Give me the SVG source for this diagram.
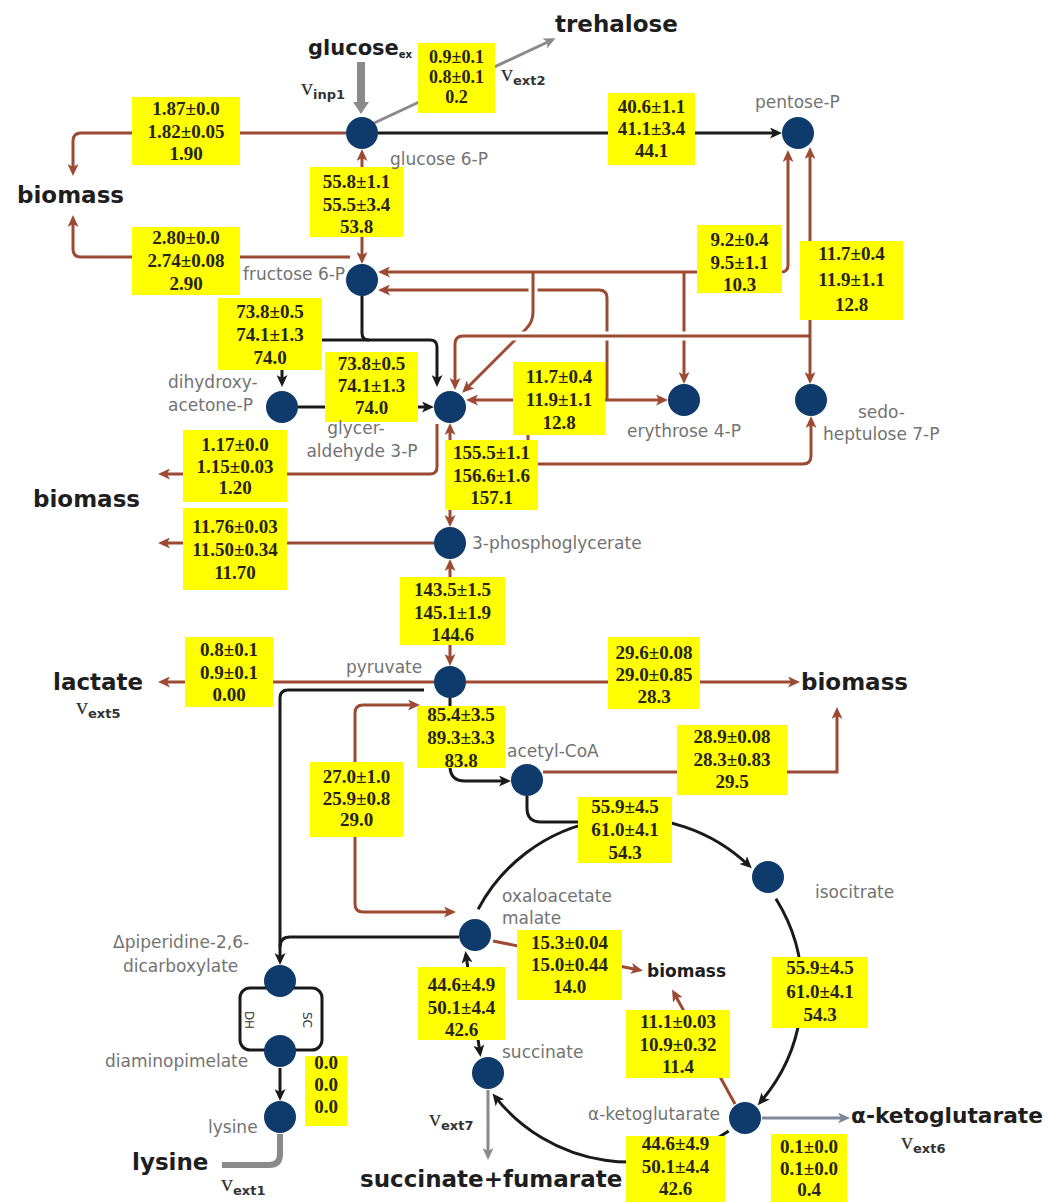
<svg xmlns="http://www.w3.org/2000/svg" width="1049" height="1202" viewBox="0 0 1049 1202">
  <style>
    .br{fill:none;stroke:#9c4a33;stroke-width:3}
    .bk{fill:none;stroke:#1a1a1a;stroke-width:3}
    .gy{fill:none;stroke:#8a8a8a;stroke-width:3}
    .halo{fill:none;stroke:#ffffff;stroke-width:9}
    .box{fill:#ffff00}
    .val{font-family:"Liberation Serif","Times New Roman",serif;font-weight:bold;font-size:19px;fill:#27241a;text-anchor:middle}
    .lbl{font-family:"DejaVu Sans","Liberation Sans",sans-serif;font-size:17px;fill:#737373}
    .big{font-family:"DejaVu Sans","Liberation Sans",sans-serif;font-weight:bold;font-size:23px;fill:#1e1e1e}
    .v{font-family:"Liberation Serif","Times New Roman",serif;font-size:24px;fill:#333333}
    .sub{font-family:"DejaVu Sans","Liberation Sans",sans-serif;font-weight:bold;font-size:13px}
    .node{fill:#0e3a6c}
    .enz{font-family:"DejaVu Sans","Liberation Sans",sans-serif;font-size:12px;fill:#333333;text-anchor:middle}
  </style>
  <defs>
    <marker id="ah-br" markerUnits="userSpaceOnUse" markerWidth="12" markerHeight="11" viewBox="0 0 12 11" refX="8" refY="5.5" orient="auto-start-reverse">
      <path d="M0,0 L12,5.5 L0,11 L3,5.5 z" fill="#9c4a33"/>
    </marker>
    <marker id="ah-bk" markerUnits="userSpaceOnUse" markerWidth="12" markerHeight="11" viewBox="0 0 12 11" refX="8" refY="5.5" orient="auto-start-reverse">
      <path d="M0,0 L12,5.5 L0,11 L3,5.5 z" fill="#1a1a1a"/>
    </marker>
    <marker id="ah-gy" markerUnits="userSpaceOnUse" markerWidth="12" markerHeight="11" viewBox="0 0 12 11" refX="8" refY="5.5" orient="auto-start-reverse">
      <path d="M0,0 L12,5.5 L0,11 L3,5.5 z" fill="#8a8a8a"/>
    </marker>
    <marker id="ah-gb" markerUnits="userSpaceOnUse" markerWidth="12" markerHeight="11" viewBox="0 0 12 11" refX="8" refY="5.5" orient="auto-start-reverse">
      <path d="M0,0 L12,5.5 L0,11 L3,5.5 z" fill="#7f8899"/>
    </marker>
    <marker id="ah-gy-big" markerUnits="userSpaceOnUse" markerWidth="12" markerHeight="16" viewBox="0 0 12 16" refX="6" refY="8" orient="auto">
      <path d="M0,0 L12,8 L0,16 z" fill="#8a8a8a"/>
    </marker>
  </defs>

  <rect width="1049" height="1202" fill="#ffffff"/>

  <!-- connectors -->
  <g id="connectors">
    <!-- uptake and trehalose -->
    <path d="M361,62 L361,108" fill="none" stroke="#8a8a8a" stroke-width="8" marker-end="url(#ah-gy-big)"/>
    <path class="gy" d="M372,124 L552,40" marker-end="url(#ah-gy)"/>

    <!-- oxidative PPP -->
    <path class="bk" d="M378,133 L778,133" marker-end="url(#ah-bk)"/>

    <!-- drains to biomass (upper left) -->
    <path class="br" d="M346,133 L81,133 Q73,133 73,141 L73,172" marker-end="url(#ah-br)"/>
    <path class="br" d="M350,257 L81,257 Q73,257 73,249 L73,219" marker-end="url(#ah-br)"/>

    <!-- glucose 6-P <-> fructose 6-P -->
    <path class="br" d="M362,153 L362,260" marker-start="url(#ah-br)" marker-end="url(#ah-br)"/>

    <!-- transaldolase -->
    <path class="br" d="M607,400 L607,298 Q607,290 599,290 L382,290" marker-end="url(#ah-br)"/>
    <path class="br" d="M470,400 L664,400" marker-start="url(#ah-br)" marker-end="url(#ah-br)"/>
    <path class="br" d="M528,433 L528,464 L803,464 Q811,464 811,456 L811,420" marker-end="url(#ah-br)"/>

    <!-- transketolase 2 -->
    <path class="br" d="M684,272 L684,380" marker-end="url(#ah-br)"/>
    <path class="halo" d="M533,281 L533,300"/>
    <path class="br" d="M788,154 L788,265 Q788,272 781,272 L382,272" marker-start="url(#ah-br)" marker-end="url(#ah-br)"/>
    <path class="br" d="M533,272 L533,312 Q533,322 526,329 L465,390" marker-end="url(#ah-br)"/>

    <!-- transketolase 1 -->
    <path class="br" d="M810,151 L810,380" marker-start="url(#ah-br)" marker-end="url(#ah-br)"/>
    <path class="halo" d="M790,336 L470,336"/>
    <path class="br" d="M810,336 L463,336 Q455,336 455,344 L455,386" marker-end="url(#ah-br)"/>

    <!-- upper glycolysis -->
    <path class="bk" d="M362,296 L362,333 Q362,340 369,340 L430,340 Q437,340 437,347 L437,383" marker-end="url(#ah-bk)"/>
    <path class="bk" d="M369,340 L289,340 Q282,340 282,347 L282,383" marker-end="url(#ah-bk)"/>
    <path class="bk" d="M298,407 L430,407" marker-end="url(#ah-bk)"/>

    <!-- lower glycolysis and drains -->
    <path class="br" d="M437,424 L437,467 Q437,474 430,474 L162,474" marker-end="url(#ah-br)"/>
    <path class="br" d="M450,427 L450,523" marker-start="url(#ah-br)" marker-end="url(#ah-br)"/>
    <path class="br" d="M434,543 L162,543" marker-end="url(#ah-br)"/>
    <path class="br" d="M450,563 L450,662" marker-start="url(#ah-br)" marker-end="url(#ah-br)"/>
    <path class="br" d="M434,682 L162,682" marker-end="url(#ah-br)"/>
    <path class="br" d="M466,682 L796,682" marker-end="url(#ah-br)"/>
    <path class="br" d="M543,772 L837,772 L837,711" marker-end="url(#ah-br)"/>

    <!-- pyruvate carboxylation -->
    <path class="br" d="M416,705 L363,705 Q355,705 355,713 L355,904 Q355,912 363,912 L452,912" marker-start="url(#ah-br)" marker-end="url(#ah-br)"/>

    <!-- pyruvate dehydrogenase -->
    <path class="bk" d="M450,698 L450,766 Q450,781 465,781 L507,781" marker-end="url(#ah-bk)"/>

    <!-- lysine branch -->
    <path class="bk" d="M424,690 L288,690 Q280,690 280,698 L280,961" marker-end="url(#ah-bk)"/>
    <path class="bk" d="M459,937 L290,937 Q280,937 280,947"/>
    <rect class="bk" x="240" y="988" width="82" height="62" rx="10"/>
    <path class="bk" d="M280,1068 L280,1097" marker-end="url(#ah-bk)"/>
    <path d="M280,1134 L280,1154 Q280,1165 269,1165 L222,1165" fill="none" stroke="#8a8a8a" stroke-width="6"/>

    <!-- TCA cycle -->
    <path class="bk" d="M527,796 L527,808 Q527,822 541,822 L580,822"/>
    <path class="bk" d="M478.1,909.3 A172,172 0 0 1 748.9,865.6" marker-end="url(#ah-bk)"/>
    <path class="bk" d="M775.9,898.8 A172,172 0 0 1 760.4,1102.1" marker-end="url(#ah-bk)"/>
    <path class="bk" d="M728.7,1130.9 A172,172 0 0 1 495.0,1096.6" marker-end="url(#ah-bk)"/>
    <path class="bk" d="M466,955 L480,1053" marker-start="url(#ah-bk)" marker-end="url(#ah-bk)"/>
    <path class="br" d="M493,941 L639,970" marker-end="url(#ah-br)"/>
    <path class="br" d="M735,1104 L674,993" marker-end="url(#ah-br)"/>

    <!-- excretion -->
    <path class="gy" d="M488,1090 L488,1156" marker-end="url(#ah-gy)"/>
    <path fill="none" stroke="#7f8899" stroke-width="3" d="M762,1118 L846,1118" marker-end="url(#ah-gb)"/>
  </g>

  <!-- flux value boxes -->
  <g id="fluxes">
    <g id="f-g6p-bio"><rect class="box" x="132" y="97" width="108" height="68"/>
      <text class="val" y="115"><tspan x="186">1.87±0.0</tspan><tspan x="186" dy="22.5">1.82±0.05</tspan><tspan x="186" dy="22.5">1.90</tspan></text></g>
    <g id="f-treh"><rect class="box" x="418" y="43" width="77" height="70"/>
      <text class="val" y="63" style="font-size:18px"><tspan x="456.5">0.9±0.1</tspan><tspan x="456.5" dy="20">0.8±0.1</tspan><tspan x="456.5" dy="20">0.2</tspan></text></g>
    <g id="f-ppp"><rect class="box" x="608" y="93" width="87" height="72"/>
      <text class="val" y="113"><tspan x="651.5">40.6±1.1</tspan><tspan x="651.5" dy="22">41.1±3.4</tspan><tspan x="651.5" dy="22">44.1</tspan></text></g>
    <g id="f-pgi"><rect class="box" x="310" y="167" width="93" height="70"/>
      <text class="val" y="188"><tspan x="356.5">55.8±1.1</tspan><tspan x="356.5" dy="22.5">55.5±3.4</tspan><tspan x="356.5" dy="22.5">53.8</tspan></text></g>
    <g id="f-f6p-bio"><rect class="box" x="132" y="227" width="108" height="68"/>
      <text class="val" y="244"><tspan x="186">2.80±0.0</tspan><tspan x="186" dy="23">2.74±0.08</tspan><tspan x="186" dy="23">2.90</tspan></text></g>
    <g id="f-tk2"><rect class="box" x="697" y="225" width="85" height="68"/>
      <text class="val" y="246"><tspan x="739.5">9.2±0.4</tspan><tspan x="739.5" dy="22.5">9.5±1.1</tspan><tspan x="739.5" dy="22.5">10.3</tspan></text></g>
    <g id="f-tk1"><rect class="box" x="800" y="241" width="103" height="79"/>
      <text class="val" y="260"><tspan x="851.5">11.7±0.4</tspan><tspan x="851.5" dy="25.5">11.9±1.1</tspan><tspan x="851.5" dy="25.5">12.8</tspan></text></g>
    <g id="f-fba"><rect class="box" x="218" y="298" width="104" height="72"/>
      <text class="val" y="318"><tspan x="270">73.8±0.5</tspan><tspan x="270" dy="23">74.1±1.3</tspan><tspan x="270" dy="23">74.0</tspan></text></g>
    <g id="f-tpi"><rect class="box" x="325" y="352" width="93" height="70"/>
      <text class="val" y="370"><tspan x="371.5">73.8±0.5</tspan><tspan x="371.5" dy="22">74.1±1.3</tspan><tspan x="371.5" dy="22">74.0</tspan></text></g>
    <g id="f-ta"><rect class="box" x="513" y="362" width="92" height="73"/>
      <text class="val" y="383"><tspan x="559">11.7±0.4</tspan><tspan x="559" dy="23">11.9±1.1</tspan><tspan x="559" dy="23">12.8</tspan></text></g>
    <g id="f-gap-bio"><rect class="box" x="183" y="430" width="104" height="72"/>
      <text class="val" y="451"><tspan x="235">1.17±0.0</tspan><tspan x="235" dy="21.5">1.15±0.03</tspan><tspan x="235" dy="21.5">1.20</tspan></text></g>
    <g id="f-gapdh"><rect class="box" x="445" y="440" width="93" height="70"/>
      <text class="val" y="459"><tspan x="491.5">155.5±1.1</tspan><tspan x="491.5" dy="22.5">156.6±1.6</tspan><tspan x="491.5" dy="22.5">157.1</tspan></text></g>
    <g id="f-pga-bio"><rect class="box" x="183" y="508" width="104" height="82"/>
      <text class="val" y="533"><tspan x="235">11.76±0.03</tspan><tspan x="235" dy="23">11.50±0.34</tspan><tspan x="235" dy="23">11.70</tspan></text></g>
    <g id="f-eno"><rect class="box" x="400" y="577" width="105" height="68"/>
      <text class="val" y="596"><tspan x="452.5">143.5±1.5</tspan><tspan x="452.5" dy="22.5">145.1±1.9</tspan><tspan x="452.5" dy="22.5">144.6</tspan></text></g>
    <g id="f-lac"><rect class="box" x="185" y="637" width="88" height="70"/>
      <text class="val" y="656"><tspan x="229">0.8±0.1</tspan><tspan x="229" dy="22.5">0.9±0.1</tspan><tspan x="229" dy="22.5">0.00</tspan></text></g>
    <g id="f-pyr-bio"><rect class="box" x="608" y="637" width="92" height="72"/>
      <text class="val" y="659"><tspan x="654">29.6±0.08</tspan><tspan x="654" dy="22">29.0±0.85</tspan><tspan x="654" dy="22">28.3</tspan></text></g>
    <g id="f-pdh"><rect class="box" x="417" y="706" width="88" height="62"/>
      <text class="val" y="721"><tspan x="461">85.4±3.5</tspan><tspan x="461" dy="23">89.3±3.3</tspan><tspan x="461" dy="23">83.8</tspan></text></g>
    <g id="f-accoa-bio"><rect class="box" x="677" y="725" width="110" height="70"/>
      <text class="val" y="743"><tspan x="732">28.9±0.08</tspan><tspan x="732" dy="22.5">28.3±0.83</tspan><tspan x="732" dy="22.5">29.5</tspan></text></g>
    <g id="f-pc"><rect class="box" x="310" y="762" width="93" height="75"/>
      <text class="val" y="783"><tspan x="356.5">27.0±1.0</tspan><tspan x="356.5" dy="21.5">25.9±0.8</tspan><tspan x="356.5" dy="21.5">29.0</tspan></text></g>
    <g id="f-cs"><rect class="box" x="578" y="797" width="94" height="66"/>
      <text class="val" y="813"><tspan x="625">55.9±4.5</tspan><tspan x="625" dy="23">61.0±4.1</tspan><tspan x="625" dy="23">54.3</tspan></text></g>
    <g id="f-oaa-bio"><rect class="box" x="517" y="930" width="105" height="70"/>
      <text class="val" y="949"><tspan x="569.5">15.3±0.04</tspan><tspan x="569.5" dy="22">15.0±0.44</tspan><tspan x="569.5" dy="22">14.0</tspan></text></g>
    <g id="f-sdh"><rect class="box" x="418" y="967" width="87" height="73"/>
      <text class="val" y="991"><tspan x="461.5">44.6±4.9</tspan><tspan x="461.5" dy="22.5">50.1±4.4</tspan><tspan x="461.5" dy="22.5">42.6</tspan></text></g>
    <g id="f-icd"><rect class="box" x="772" y="957" width="96" height="71"/>
      <text class="val" y="974"><tspan x="820">55.9±4.5</tspan><tspan x="820" dy="23.5">61.0±4.1</tspan><tspan x="820" dy="23.5">54.3</tspan></text></g>
    <g id="f-akg-bio"><rect class="box" x="626" y="1010" width="104" height="68"/>
      <text class="val" y="1028"><tspan x="678">11.1±0.03</tspan><tspan x="678" dy="22.5">10.9±0.32</tspan><tspan x="678" dy="22.5">11.4</tspan></text></g>
    <g id="f-lys"><rect class="box" x="305" y="1056" width="42" height="70"/>
      <text class="val" y="1069"><tspan x="326">0.0</tspan><tspan x="326" dy="22">0.0</tspan><tspan x="326" dy="22">0.0</tspan></text></g>
    <g id="f-akg-ext"><rect class="box" x="771" y="1134" width="76" height="68"/>
      <text class="val" y="1153"><tspan x="809">0.1±0.0</tspan><tspan x="809" dy="21.5">0.1±0.0</tspan><tspan x="809" dy="21.5">0.4</tspan></text></g>
    <g id="f-odh"><rect class="box" x="626" y="1136" width="99" height="66"/>
      <text class="val" y="1150"><tspan x="675.5">44.6±4.9</tspan><tspan x="675.5" dy="22.5">50.1±4.4</tspan><tspan x="675.5" dy="22.5">42.6</tspan></text></g>
  </g>

  <!-- metabolite nodes -->
  <g id="n-g6p"><circle class="node" cx="362" cy="133" r="16"/><text class="lbl" x="390" y="165">glucose 6-P</text></g>
  <g id="n-pentose"><circle class="node" cx="798" cy="133" r="16"/><text class="lbl" x="755" y="108">pentose-P</text></g>
  <g id="n-f6p"><text class="lbl" x="243" y="280">fructose 6-P</text><circle class="node" cx="362" cy="280" r="16"/></g>
  <g id="n-dhap"><circle class="node" cx="282" cy="407" r="16"/><text class="lbl" x="168" y="388">dihydroxy-</text><text class="lbl" x="168" y="411">acetone-P</text></g>
  <g id="n-gap"><circle class="node" cx="450" cy="407" r="16"/><text class="lbl" x="356" y="434" text-anchor="middle">glycer-</text><text class="lbl" x="362" y="457" text-anchor="middle">aldehyde 3-P</text></g>
  <g id="n-e4p"><circle class="node" cx="684" cy="400" r="16"/><text class="lbl" x="627" y="437">erythrose 4-P</text></g>
  <g id="n-s7p"><circle class="node" cx="811" cy="400" r="16"/><text class="lbl" x="858" y="418">sedo-</text><text class="lbl" x="823" y="440">heptulose 7-P</text></g>
  <g id="n-pga"><circle class="node" cx="450" cy="543" r="16"/><text class="lbl" x="472" y="549">3-phosphoglycerate</text></g>
  <g id="n-pyr"><circle class="node" cx="450" cy="682" r="16"/><text class="lbl" x="346" y="673">pyruvate</text></g>
  <g id="n-accoa"><circle class="node" cx="527" cy="780" r="16"/><text class="lbl" x="507" y="757">acetyl-CoA</text></g>
  <g id="n-icit"><circle class="node" cx="768" cy="877" r="16"/><text class="lbl" x="815" y="898">isocitrate</text></g>
  <g id="n-oaa"><circle class="node" cx="475" cy="935" r="16"/><text class="lbl" x="502" y="902">oxaloacetate</text><text class="lbl" x="502" y="924">malate</text></g>
  <g id="n-pip"><circle class="node" cx="280" cy="981" r="16"/><text class="lbl" x="113" y="948">Δpiperidine-2,6-</text><text class="lbl" x="123" y="972">dicarboxylate</text></g>
  <g id="n-dap"><circle class="node" cx="280" cy="1051" r="16"/><text class="lbl" x="105" y="1067">diaminopimelate</text></g>
  <g id="n-lys"><circle class="node" cx="280" cy="1117" r="16"/><text class="lbl" x="208" y="1133">lysine</text></g>
  <g id="n-suc"><circle class="node" cx="488" cy="1073" r="16"/><text class="lbl" x="502" y="1058">succinate</text></g>
  <g id="n-akg"><circle class="node" cx="745" cy="1118" r="16"/><text class="lbl" x="588" y="1120">α-ketoglutarate</text></g>

  <!-- lysine branch variants -->
  <g id="enzymes">
    <text class="enz" transform="translate(245,1020) rotate(90)">DH</text>
    <text class="enz" transform="translate(303,1020) rotate(90)">SC</text>
  </g>

  <!-- external pools and exchange fluxes -->
  <g id="externals">
    <text class="big" x="308" y="55" style="font-size:21px">glucose<tspan class="sub" dy="3" style="font-size:10px">ex</tspan></text>
    <text x="301" y="95"><tspan class="v">v</tspan><tspan class="sub" dy="4" fill="#333">inp1</tspan></text>
    <text class="big" x="555" y="32">trehalose</text>
    <text x="501" y="81"><tspan class="v" fill="#2a2f55">v</tspan><tspan class="sub" dy="4" fill="#333">ext2</tspan></text>
    <text class="big" x="17" y="203">biomass</text>
    <text class="big" x="33" y="507">biomass</text>
    <text class="big" x="53" y="690">lactate</text>
    <text x="76" y="714"><tspan class="v">v</tspan><tspan class="sub" dy="4" fill="#333">ext5</tspan></text>
    <text class="big" x="801" y="690">biomass</text>
    <text class="big" x="647" y="977" style="font-size:17px">biomass</text>
    <text class="big" x="132" y="1170">lysine</text>
    <text x="221" y="1191"><tspan class="v">v</tspan><tspan class="sub" dy="4" fill="#333">ext1</tspan></text>
    <text class="big" x="360" y="1187">succinate+fumarate</text>
    <text x="429" y="1126"><tspan class="v">v</tspan><tspan class="sub" dy="4" fill="#333">ext7</tspan></text>
    <text class="big" x="851" y="1123" style="font-size:21px" textLength="192" lengthAdjust="spacingAndGlyphs">α-ketoglutarate</text>
    <text x="901" y="1149"><tspan class="v">v</tspan><tspan class="sub" dy="4" fill="#333">ext6</tspan></text>
  </g>
</svg>
